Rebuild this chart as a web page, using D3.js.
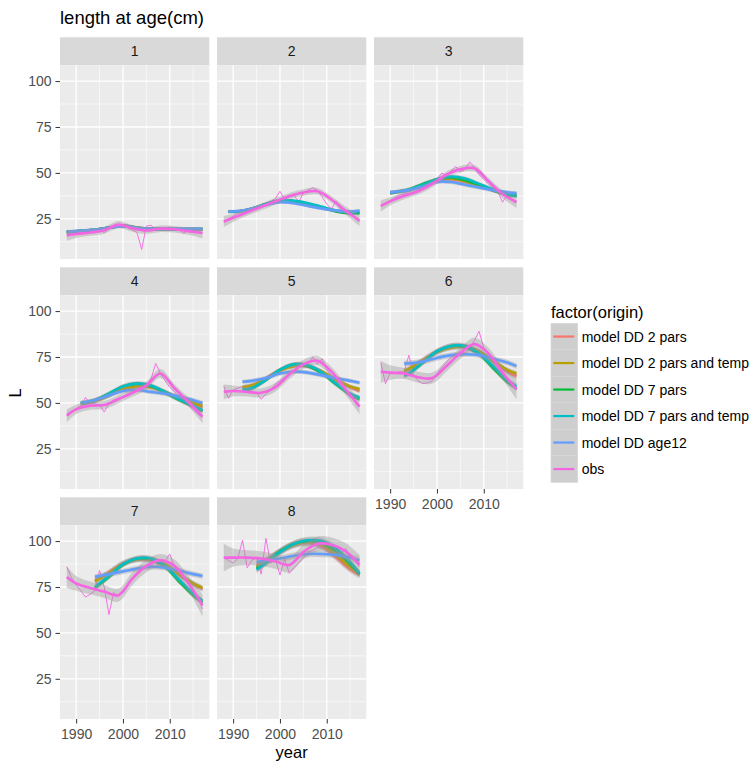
<!DOCTYPE html>
<html><head><meta charset="utf-8">
<script src="https://cdn.jsdelivr.net/npm/d3@7"></script>
<style>
body{margin:0;background:#fff}
text{font-family:"Liberation Sans",Arial,sans-serif}
</style>
</head><body>
<svg id="c" width="754" height="765"></svg>
<script>
// ---------------- data ----------------
const ages = [1, 2, 3, 4, 5, 6, 7, 8];
const origins = ["model DD 2 pars", "model DD 2 pars and temp", "model DD 7 pars",
                 "model DD 7 pars and temp", "model DD age12", "obs"];
const colors = ["#F8766D", "#B79F00", "#00BA38", "#00BFC4", "#619CFF", "#F564E3"];
const years = [1988,1989,1990,1991,1992,1993,1994,1995,1996,1997,1998,1999,2000,2001,2002,
               2003,2004,2005,2006,2007,2008,2009,2010,2011,2012,2013,2014,2015,2016,2017];
const xTicks = [1990, 2000, 2010];
const xMinor = [1995, 2005, 2015];
const yTicks = [25, 50, 75, 100];
const yMinor = [12.5, 37.5, 62.5, 87.5];

// observed length at age, by year
const obsRaw = [
  [15.5,16.5,17,17.5,18,18.5,18.5,19,17.5,19.5,20.5,22,21.5,20,19,17.5,8.3,21,21.5,19,19.5,20,20.5,19.5,19,17,19,18.5,18,17.5],
  [23,25,26.5,28,28.5,29,30,31,32,33.5,34.5,36,40,35.5,37,38,34,39,40.5,42,40.5,37,33,30.5,34.5,30,28,27,25.5,23.5],
  [32,33.5,35,36.5,38,38.5,39,39.5,40.5,41.5,43,45,46.5,50,48.5,51,53.5,50.5,52,56,53,49,46.5,44,42,40,34,38,36,34.5],
  [44,45.5,47,48.5,53,50,49.5,49,45,49.5,51.5,52.5,53.5,55,56,57,58,60,63,71.5,66,62,58.5,56,53,50.5,48.5,46.5,44,42],
  [59,52.5,57,58,59,58,56,55.5,52,55,57,60,62,64,66,68,69.5,70.5,71,75,71,74,68,65,62,58.5,56,53,52,48.5],
  [72,60.5,66,66,67,67,76,65,62,60.5,61,62,66,69,72,75,76,78.5,77,80,84,89,80,76,72,68,66.5,63,60,57],
  [86,80,76,73,69.5,71,73,84,75,60,72,70,72,76,80,83,85,86,87,86,88,89,93,86,84,80,77,74,70,63],
  [91,89.5,88,90.5,100.5,85.5,89.5,91,82,101.5,88,90.5,81.5,90,82.5,85.5,88,91,94,95,96.5,96,97.5,97,95.5,93,96,92,89.5,86]
];

// smoothed obs (loess) read at these years, with its confidence half-width
const obsKnots = [1988, 1990, 1993, 1996, 1999, 2002, 2005, 2008, 2011, 2014, 2017];
const obsSmooth = [
  [16, 16.7, 17.5, 18.7, 21.8, 19.8, 18.6, 19.6, 19.3, 18.3, 17.3],
  [23.5, 25.5, 28.5, 31.5, 34.5, 37.3, 39.3, 40, 35.5, 29.5, 24],
  [32, 34.5, 37.5, 40, 44, 49, 52, 52.5, 45.5, 38.5, 34],
  [43, 46.5, 48.5, 48.8, 52, 55.5, 59.5, 66, 58, 50.5, 42.5],
  [56, 56.5, 56, 55.5, 58.5, 65.5, 71, 73, 67, 57.5, 48],
  [67, 66.5, 66, 64, 63.5, 70, 77, 82, 77, 66.5, 57.5],
  [80.5, 77, 74.5, 72.5, 70.5, 79.5, 86.5, 89.5, 86.5, 77, 65],
  [91, 91, 91, 90.5, 89, 87, 94, 98.5, 98, 94.5, 87]
];
const obsSe = [
  [3, 2.2, 1.8, 1.8, 2, 1.8, 1.8, 1.8, 1.8, 2, 3],
  [3, 2.2, 1.8, 1.8, 1.8, 1.8, 1.8, 1.8, 1.8, 2.2, 3],
  [3, 2.2, 1.8, 1.8, 1.8, 1.8, 1.8, 1.8, 1.8, 2.2, 3],
  [3.5, 2.5, 2.2, 2.2, 2.2, 2.2, 2.2, 2.5, 2.2, 2.5, 3.5],
  [4, 3, 2.5, 2.5, 2.5, 2.5, 2.5, 2.5, 2.5, 3, 4],
  [6, 4, 3, 3, 3, 3, 3, 3.5, 3, 3.5, 5.5],
  [6, 4, 3.5, 3.5, 3.5, 3.5, 3.5, 3.5, 3.5, 4, 6],
  [7.5, 5, 4, 4, 4, 4, 4, 4, 4, 4.5, 5.5]
];

// smoothed model series: first value at the start year, then at the knots after it
const modelStart = [1988, 1989, 1990, 1991, 1992, 1993, 1994, 1995];
const modelKnots = [1991, 1994, 1997, 2000, 2003, 2006, 2009, 2012, 2015, 2017];
const modelSe = [0.8, 0.8, 1, 1.2, 1.2, 1.5, 1.5, 1.8];

const m2pars = [
  [17.6, 18.3, 19, 20.2, 21.3, 20.2, 19.5, 19.4, 19.3, 19.3, 19.3],
  [28.8, 29, 30.5, 33, 35, 34.5, 33, 31, 29.3, 28.5, 28.5],
  [39, 39.5, 40.5, 43, 45.5, 46.5, 45, 43, 40.5, 38.5, 38],
  [49.5, 51, 54, 57.5, 59, 58.5, 56, 52.5, 49.5, 47.5],
  [58.5, 59.5, 63.5, 68, 70.5, 70, 67, 62.5, 58.5, 56.5],
  [67, 68.5, 73.5, 78, 80.5, 80.5, 78, 72.5, 67, 64.5],
  [78.5, 83, 88, 90, 89.5, 87, 81.5, 76.5, 74],
  [86.5, 89.5, 94.5, 98, 99, 97, 91, 84.5, 81.5]
];
const m2parsTemp = [
  [17.6, 18.3, 19, 20.2, 21.2, 20.1, 19.5, 19.4, 19.3, 19.3, 19.3],
  [28.8, 29, 30.5, 33, 34.8, 34.5, 33, 31, 29.3, 28.5, 28.5],
  [39, 39.5, 40.5, 43, 46, 47, 45.5, 43, 40.5, 38.5, 38],
  [49.5, 51, 54, 57.5, 59, 58.5, 56, 52.5, 50, 48.5],
  [58.5, 59.5, 63, 67.5, 70, 70, 67, 62.5, 59, 57.5],
  [67.5, 68.5, 73, 77.5, 80, 80.5, 78, 73, 68, 66],
  [78, 82.5, 87.5, 90, 90, 87.5, 82, 77, 74.5],
  [86, 89, 94, 98, 99.5, 98, 92.5, 86, 82.5]
];
const m7pars = [
  [17.8, 18.4, 19, 20.2, 21.2, 20.1, 19.5, 19.4, 19.4, 19.4, 19.4],
  [28.8, 29, 30.5, 33, 35, 34.5, 33, 31, 29, 28, 28],
  [39, 39.5, 41, 44, 46.5, 47.5, 46, 43.5, 40.5, 38, 37.5],
  [49.5, 51.5, 55, 59, 60.5, 59, 55.5, 51.5, 48, 45.5],
  [57, 58, 62.5, 68, 71, 70, 66, 60, 54.5, 52],
  [65, 66, 72, 78, 81, 80.5, 76.5, 69, 61.5, 58],
  [74.5, 80.5, 87, 90.5, 90, 86, 78, 70.5, 66.5],
  [85, 88.5, 94.5, 98.5, 100, 99, 94.5, 87.5, 82]
];
const m7parsTemp = [
  [17.8, 18.4, 19, 20.1, 21, 20, 19.5, 19.4, 19.4, 19.4, 19.4],
  [28.8, 29, 30.5, 33, 35, 34.8, 33.5, 31.5, 29.5, 28.5, 28.8],
  [39, 39.5, 41, 43.5, 46.5, 48, 47, 44, 41, 38.5, 37.5],
  [50, 51.5, 55, 59, 60.5, 59.5, 56, 52, 48.5, 46],
  [57, 58, 62.5, 68, 71, 70.5, 66.5, 60.5, 55, 53],
  [65, 66, 72, 78, 81, 81, 77, 70, 62.5, 59],
  [75, 81, 87.5, 90.5, 90.5, 86.5, 79, 71.5, 67.5],
  [84.5, 88, 94, 98.5, 100.5, 100, 96, 88.5, 82.5]
];
const mAge12 = [
  [18, 18.5, 19, 20, 21, 20, 19.5, 19.5, 19.5, 19.5, 19.6],
  [29, 29.2, 30.5, 32.5, 34, 33.5, 32, 30.5, 29.5, 29, 29.5],
  [39.5, 39.7, 40.5, 42.5, 45, 45, 43.5, 42, 40.5, 39.5, 39],
  [50, 51.5, 54, 56.5, 57, 56, 55, 53.5, 51.5, 50],
  [61.5, 62, 63.5, 66, 67, 66.5, 65, 63.5, 62, 61],
  [71.5, 71.5, 72.5, 74.5, 76, 76.5, 76, 74, 72, 70],
  [80.5, 82, 83.5, 85, 86, 85.5, 84, 82, 81],
  [88.5, 89.5, 90.5, 92, 93, 93, 92.5, 91, 89.5]
];
const modelSeries = [m2pars, m2parsTemp, m7pars, m7parsTemp, mAge12];

// ---------------- layout ----------------
const svg = d3.select("#c");
const pw = 149.3, gapX = 7.7, left0 = 60;
const top0 = 37.3, stripH = 28, ph = 193.7, gapY = 8.3;
const x = d3.scaleLinear().domain([1986.55, 2018.45]).range([0, pw]);
const y = d3.scaleLinear().domain([3.1, 108.6]).range([ph, 0]);
const curve = d3.curveCatmullRom.alpha(0.5);

const defs = svg.append("defs");
defs.append("clipPath").attr("id", "pclip").append("rect")
  .attr("width", pw).attr("height", ph);

// title
svg.append("text").attr("x", 60).attr("y", 24).attr("font-size", 18.5)
  .attr("fill", "#000").text("length at age(cm)");

ages.forEach((age, i) => {
  const col = i % 3, row = Math.floor(i / 3);
  const px = left0 + col * (pw + gapX);
  const py = top0 + row * (stripH + ph + gapY);

  // strip
  svg.append("rect").attr("x", px).attr("y", py).attr("width", pw).attr("height", stripH)
    .attr("fill", "#D9D9D9");
  svg.append("text").attr("x", px + pw / 2).attr("y", py + stripH / 2)
    .attr("text-anchor", "middle").attr("dominant-baseline", "central")
    .attr("font-size", 14).attr("fill", "#1A1A1A").text(age);

  const g = svg.append("g").attr("transform", `translate(${px},${py + stripH})`);
  g.append("rect").attr("width", pw).attr("height", ph).attr("fill", "#EBEBEB");

  // grid
  g.selectAll(".yminor").data(yMinor).join("line")
    .attr("x1", 0).attr("x2", pw).attr("y1", d => y(d)).attr("y2", d => y(d))
    .attr("stroke", "#fff").attr("stroke-width", 0.6);
  g.selectAll(".xminor").data(xMinor).join("line")
    .attr("y1", 0).attr("y2", ph).attr("x1", d => x(d)).attr("x2", d => x(d))
    .attr("stroke", "#fff").attr("stroke-width", 0.6);
  g.selectAll(".ymajor").data(yTicks).join("line")
    .attr("x1", 0).attr("x2", pw).attr("y1", d => y(d)).attr("y2", d => y(d))
    .attr("stroke", "#fff").attr("stroke-width", 1.3);
  g.selectAll(".xmajor").data(xTicks).join("line")
    .attr("y1", 0).attr("y2", ph).attr("x1", d => x(d)).attr("x2", d => x(d))
    .attr("stroke", "#fff").attr("stroke-width", 1.3);

  const d = g.append("g").attr("clip-path", "url(#pclip)");

  // raw observations
  d.append("path")
    .datum(years.map((yr, j) => [yr, obsRaw[i][j]]))
    .attr("fill", "none").attr("stroke", colors[5]).attr("stroke-width", 0.9)
    .attr("d", d3.line().x(p => x(p[0])).y(p => y(p[1])));

  // smooths: ribbon then line for each series, in legend order
  const series = modelSeries.map((ms, k) => {
    const yrs = [modelStart[i]].concat(modelKnots.filter(v => v > modelStart[i]));
    return { k, pts: yrs.map((yr, j) => ({ yr, v: ms[i][j], se: modelSe[i] })) };
  });
  series.push({ k: 5, pts: obsKnots.map((yr, j) => ({ yr, v: obsSmooth[i][j], se: obsSe[i][j] })) });

  series.forEach(s => {
    d.append("path").datum(s.pts)
      .attr("fill", "#999999").attr("fill-opacity", 0.4)
      .attr("d", d3.area().curve(curve).x(p => x(p.yr))
        .y0(p => y(p.v - p.se)).y1(p => y(p.v + p.se)));
    d.append("path").datum(s.pts)
      .attr("fill", "none").attr("stroke", colors[s.k]).attr("stroke-width", 2.6)
      .attr("d", d3.line().curve(curve).x(p => x(p.yr)).y(p => y(p.v)));
  });

  // axes
  if (col === 0) {
    const ax = g.append("g").call(d3.axisLeft(y).tickValues(yTicks).tickSize(4.5).tickPadding(4));
    ax.select(".domain").remove();
    ax.selectAll("line").attr("stroke", "#333333").attr("stroke-width", 1);
    ax.selectAll("text").attr("font-size", 14).attr("fill", "#4D4D4D")
      .attr("font-family", "Liberation Sans, Arial, sans-serif");
  }
  if (i >= 5) {
    const ax = g.append("g").attr("transform", `translate(0,${ph})`)
      .call(d3.axisBottom(x).tickValues(xTicks).tickFormat(d3.format("d")).tickSize(4.5).tickPadding(6));
    ax.select(".domain").remove();
    ax.selectAll("line").attr("stroke", "#333333").attr("stroke-width", 1);
    ax.selectAll("text").attr("font-size", 14).attr("fill", "#4D4D4D")
      .attr("font-family", "Liberation Sans, Arial, sans-serif");
  }
});

// axis titles
svg.append("text").attr("x", (left0 + left0 + 3 * pw + 2 * gapX) / 2).attr("y", 757.5)
  .attr("text-anchor", "middle").attr("font-size", 16.5).attr("fill", "#000").text("year");
svg.append("text").attr("transform", "translate(20.5,393) rotate(-90)")
  .attr("text-anchor", "middle").attr("font-size", 16.5).attr("fill", "#000").text("L");

// legend
const lg = svg.append("g");
lg.append("text").attr("x", 551).attr("y", 317.5).attr("font-size", 16.5).attr("fill", "#000")
  .text("factor(origin)");
const keyH = 26.5, keyW = 26.7, keyTop = 323.3;
origins.forEach((o, k) => {
  const ky = keyTop + k * keyH;
  lg.append("rect").attr("x", 551).attr("y", ky).attr("width", keyW).attr("height", keyH)
    .attr("fill", "#CECECE").attr("stroke", "#D8D8D8").attr("stroke-width", 0.6);
  lg.append("line").attr("x1", 553.3).attr("x2", 574.3).attr("y1", ky + keyH / 2).attr("y2", ky + keyH / 2)
    .attr("stroke", colors[k]).attr("stroke-width", 2.2);
  lg.append("text").attr("x", 581.7).attr("y", ky + keyH / 2).attr("dominant-baseline", "central")
    .attr("font-size", 14).attr("fill", "#000").text(o);
});
</script>
</body></html>
